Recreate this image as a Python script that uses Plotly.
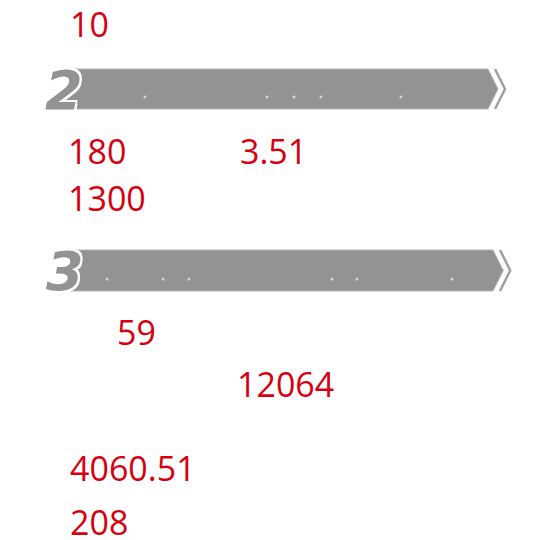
import plotly.graph_objects as go

# ---- content ----
big_values = ["10", "180", "3.51", "1300", "59", "12064", "4060.51", "208"]
section_numbers = ["2", "3"]

# ---- layout (pixel positions on a 560x540 canvas) ----
value_x = [69, 67, 239, 67, 116, 236, 69, 69]
value_y = [24, 151, 151, 198, 332, 384, 468, 522]
section_top = [69, 250]
section_bottom = [109, 291]
section_tip = [488, 493]
section_num_x = [64, 65]
dots_x = [[145, 267, 294, 321, 401], [107, 163, 189, 332, 357, 452]]
dots_y = [97, 279]

RED = "#d7000f"
GRAY = "#939393"

fig = go.Figure()
shapes = []
annotations = []

for i, num in enumerate(section_numbers):
    t, b, tip = section_top[i], section_bottom[i], section_tip[i]
    m = (t + b) / 2
    h = (b - t) / 2
    path = f"M 74,{t} L {tip},{t} L {tip + h * 0.5},{m} L {tip},{b} L 62,{b} Z"
    shapes.append(dict(type="path", path=path, xref="x", yref="y",
                       fillcolor=GRAY, line=dict(color="#b5b5b5", width=1), layer="below"))
    chev = f"M {tip + 7},{t} L {tip + 7 + h * 0.5},{m} L {tip + 7},{b}"
    shapes.append(dict(type="path", path=chev, xref="x", yref="y",
                       line=dict(color="#a0a0a0", width=2.5), layer="below"))
    annotations.append(dict(x=section_num_x[i], y=m + 1, xref="x", yref="y", text=num,
                            showarrow=False, xanchor="center", yanchor="middle",
                            font=dict(family="DejaVu Sans", size=54, color=GRAY,
                                      weight="bold", style="italic",
                                      shadow="2px 0 0 white, -2px 0 0 white, 0 2px 0 white, 0 -2px 0 white, 2px 2px 0 white, -2px -2px 0 white, 2px -2px 0 white, -2px 2px 0 white")))
    fig.add_trace(go.Scatter(x=dots_x[i], y=[dots_y[i]] * len(dots_x[i]), mode="markers",
                             marker=dict(size=3, color="#d4d4d4"), hoverinfo="skip",
                             showlegend=False))

for v, x, y in zip(big_values, value_x, value_y):
    annotations.append(dict(x=x, y=y, xref="x", yref="y", text=v, showarrow=False,
                            xanchor="left", yanchor="middle", borderpad=0, height=28,
                            font=dict(family="Open Sans", size=34, color=RED)))

fig.update_layout(
    width=560, height=540,
    margin=dict(l=0, r=0, t=0, b=0),
    paper_bgcolor="white", plot_bgcolor="white",
    xaxis=dict(range=[0, 560], visible=False, fixedrange=True),
    yaxis=dict(range=[540, 0], visible=False, fixedrange=True),
    shapes=shapes, annotations=annotations, showlegend=False,
)
fig.write_html("out.html", config={"displayModeBar": False},
               post_script="document.body.style.margin='0';")
